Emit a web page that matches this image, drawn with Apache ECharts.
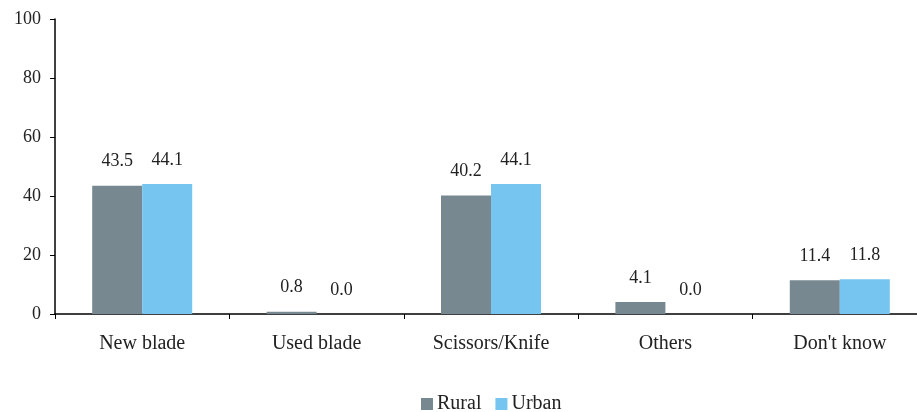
<!DOCTYPE html>
<html><head><meta charset="utf-8">
<script src="https://cdn.jsdelivr.net/npm/echarts@6/dist/echarts.min.js"></script>
<style>html,body{margin:0;padding:0;background:#fff}#c{width:917px;height:412px}</style>
</head><body><div id="c"></div>
<script>
var categories = ["New blade", "Used blade", "Scissors/Knife", "Others", "Don't know"];
var rural = [43.5, 0.8, 40.2, 4.1, 11.4];
var urban = [44.1, 0.0, 44.1, 0.0, 11.8];
var yTicks = [0, 20, 40, 60, 80, 100];

var FONT = "Liberation Serif";
var chart = echarts.init(document.getElementById('c'));
var lbl = {show: true, position: 'top', distance: 15, color: '#222', fontFamily: FONT, fontSize: 18,
  formatter: function(p){ return p.value.toFixed(1); }};
chart.setOption({
  animation: false,
  grid: {left: 55, width: 872, top: 19, height: 295, containLabel: false, outerBoundsMode: 'none'},
  legend: {top: 389, left: 416, itemWidth: 12, itemHeight: 12, itemGap: 14,
    icon: 'rect', textStyle: {fontFamily: FONT, fontSize: 20, color: '#222', padding: [0,0,0,-1]},
    data: ['Rural', 'Urban']},
  xAxis: {type: 'category', data: categories,
    axisLine: {lineStyle: {color: '#000', width: 1.5}},
    axisTick: {show: true, length: 5, lineStyle: {color: '#000'}},
    axisLabel: {fontFamily: FONT, fontSize: 20, color: '#222', margin: 20}},
  yAxis: {type: 'value', min: yTicks[0], max: yTicks[yTicks.length-1], interval: 20,
    splitLine: {show: false},
    axisLine: {show: true, lineStyle: {color: '#000', width: 1.5}},
    axisTick: {show: true, length: 5, lineStyle: {color: '#000'}},
    axisLabel: {fontFamily: FONT, fontSize: 18, color: '#222', margin: 14}},
  series: [
    {name: 'Rural', type: 'bar', data: rural, barWidth: 50, barGap: '0%',
      itemStyle: {color: '#778891'}, label: lbl},
    {name: 'Urban', type: 'bar', data: urban, barWidth: 50,
      itemStyle: {color: '#76c5f0'}, label: lbl}
  ]
});
</script></body></html>
